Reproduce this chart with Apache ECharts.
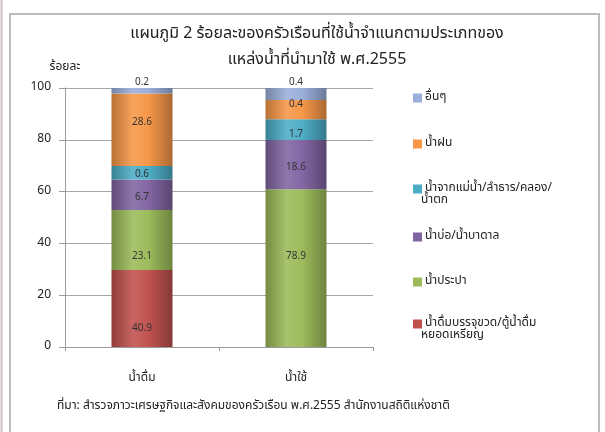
<!DOCTYPE html>
<html>
<head>
<meta charset="utf-8">
<script src="https://cdn.jsdelivr.net/npm/echarts@6/dist/echarts.min.js"></script>
<style>
html,body{margin:0;padding:0;background:#fff;}
#chart{width:605px;height:432px;}
</style>
</head>
<body>
<div id="chart"></div>
<script>
// ---- data ----
const categories = ['น้ำดื่ม', 'น้ำใช้'];
const seriesNames = [
  'น้ำดื่มบรรจุขวด/ตู้น้ำดื่ม\nหยอดเหรียญ',
  'น้ำประปา',
  'น้ำบ่อ/น้ำบาดาล',
  'น้ำจากแม่น้ำ/ลำธาร/คลอง/\nน้ำตก',
  'น้ำฝน',
  'อื่นๆ'
];
// segment heights as drawn in the picture (percent scale)
const bottledValues = [29.7, 0];
const tapValues     = [23.2, 60.9];
const wellValues    = [11.8, 19.0];
const riverValues   = [5.2, 8.0];
const rainValues    = [28.0, 7.5];
const otherValues   = [2.1, 4.6];
// printed data labels
const bottledLabels = ['40.9', ''];
const tapLabels     = ['23.1', '78.9'];
const wellLabels    = ['6.7', '18.6'];
const riverLabels   = ['0.6', '1.7'];
const rainLabels    = ['28.6', '0.4'];
const otherLabels   = ['0.2', '0.4'];
const yTicks = [0, 20, 40, 60, 80, 100];
const titleText = 'แผนภูมิ 2 ร้อยละของครัวเรือนที่ใช้น้ำจำแนกตามประเภทของ\nแหล่งน้ำที่นำมาใช้ พ.ศ.2555';
const sourceText = 'ที่มา: สำรวจภาวะเศรษฐกิจและสังคมของครัวเรือน พ.ศ.2555 สำนักงานสถิติแห่งชาติ';
const yName = 'ร้อยละ';

// ---- build ----
const FONT = "Tahoma, 'Noto Sans Thai', 'Noto Sans', 'DejaVu Sans', sans-serif";
const values = [bottledValues, tapValues, wellValues, riverValues, rainValues, otherValues];
const labels = [bottledLabels, tapLabels, wellLabels, riverLabels, rainLabels, otherLabels];
const colors = ['#c0504d', '#9bbb59', '#8064a2', '#4bacc6', '#f79646', '#9aaedb'];
// label vertical nudges (px) per series, per category
const labelNudge = [[20, 0], [17, -11], [3, 3], [2, 5], [-7, -5], [0, 0]];

function shade(hex, f) {
  const n = parseInt(hex.slice(1), 16);
  let r = (n >> 16) & 255, g = (n >> 8) & 255, b = n & 255;
  if (f < 0) { r *= 1 + f; g *= 1 + f; b *= 1 + f; }
  else { r += (255 - r) * f; g += (255 - g) * f; b += (255 - b) * f; }
  return 'rgb(' + Math.round(r) + ',' + Math.round(g) + ',' + Math.round(b) + ')';
}
function cyl(hex) {
  return new echarts.graphic.LinearGradient(0, 0, 1, 0, [
    { offset: 0, color: shade(hex, -0.25) },
    { offset: 0.35, color: shade(hex, 0.12) },
    { offset: 0.6, color: shade(hex, 0.02) },
    { offset: 1, color: shade(hex, -0.3) }
  ]);
}

const series = seriesNames.map((name, i) => ({
  name: name,
  type: 'bar',
  stack: 'total',
  barWidth: 61,
  itemStyle: { color: cyl(colors[i]) },
  data: values[i].map((v, j) => ({
    value: v,
    label: {
      show: labels[i][j] !== '',
      formatter: labels[i][j],
      position: i === 5 ? 'top' : 'inside',
      distance: i === 5 ? 0 : 5,
      offset: [0, labelNudge[i][j]],
      fontSize: 10,
      color: '#333',
      fontFamily: FONT
    }
  }))
}));

const legendTops = [313, 271, 226, 178, 133, 87];
const legends = seriesNames.map((name, i) => ({
  data: [{ name: name, itemStyle: { color: colors[i] } }],
  left: 408,
  top: legendTops[i],
  orient: 'vertical',
  itemWidth: 9,
  itemHeight: 9,
  itemGap: 4,
  icon: 'rect',
  selectedMode: false,
  formatter: (n) => n.split('\n')[0],
  textStyle: { fontSize: 12, color: '#222', fontFamily: FONT, padding: [0, 0, 0, -2] }
}));

const graphics = [
  { type: 'rect', shape: { x: 10, y: 14, width: 589, height: 430 },
    style: { fill: 'none', stroke: '#bcbcbc', lineWidth: 2 }, silent: true },
  { type: 'line', shape: { x1: 1.5, y1: 0, x2: 1.5, y2: 432 },
    style: { stroke: '#cdbfc6', lineWidth: 2 }, silent: true },
  { type: 'text', left: 57, top: 401,
    style: { text: sourceText, fontSize: 12, fill: '#222', fontFamily: FONT } }
];
seriesNames.forEach((name, i) => {
  const parts = name.split('\n');
  if (parts.length > 1) {
    graphics.push({ type: 'text', left: 421, top: legendTops[i] + 17,
      style: { text: parts[1], fontSize: 12, fill: '#222', fontFamily: FONT } });
  }
});

const option = {
  animation: false,
  backgroundColor: '#fff',
  title: {
    text: titleText,
    left: 312,
    textAlign: 'center',
    top: 17,
    textStyle: { fontSize: 16, fontWeight: 'normal', color: '#222', lineHeight: 26, fontFamily: FONT }
  },
  legend: legends,
  grid: { left: 65, right: 232, top: 88, bottom: 85 },
  xAxis: {
    type: 'category',
    data: categories,
    axisLine: { lineStyle: { color: '#9a9a9a', width: 1 } },
    axisTick: { show: true, alignWithLabel: false, length: 4, lineStyle: { color: '#9a9a9a' } },
    axisLabel: { color: '#222', fontSize: 12, margin: 26, fontFamily: FONT }
  },
  yAxis: {
    type: 'value',
    min: yTicks[0],
    max: yTicks[yTicks.length - 1],
    interval: yTicks[1] - yTicks[0],
    name: yName,
    nameLocation: 'end',
    nameGap: 14,
    nameTextStyle: { color: '#222', fontSize: 12, fontFamily: FONT, align: 'center', padding: [0, 0, 0, 0] },
    axisLine: { show: true, lineStyle: { color: '#9a9a9a' } },
    axisTick: { show: true, length: 6, lineStyle: { color: '#9a9a9a' } },
    axisLabel: { color: '#222', fontSize: 12, margin: 14, fontFamily: FONT },
    splitLine: { lineStyle: { color: '#a6a6a6', width: 1 } }
  },
  graphic: graphics,
  series: series
};

const chart = echarts.init(document.getElementById('chart'), null, { renderer: 'canvas' });
chart.setOption(option);
</script>
</body>
</html>
